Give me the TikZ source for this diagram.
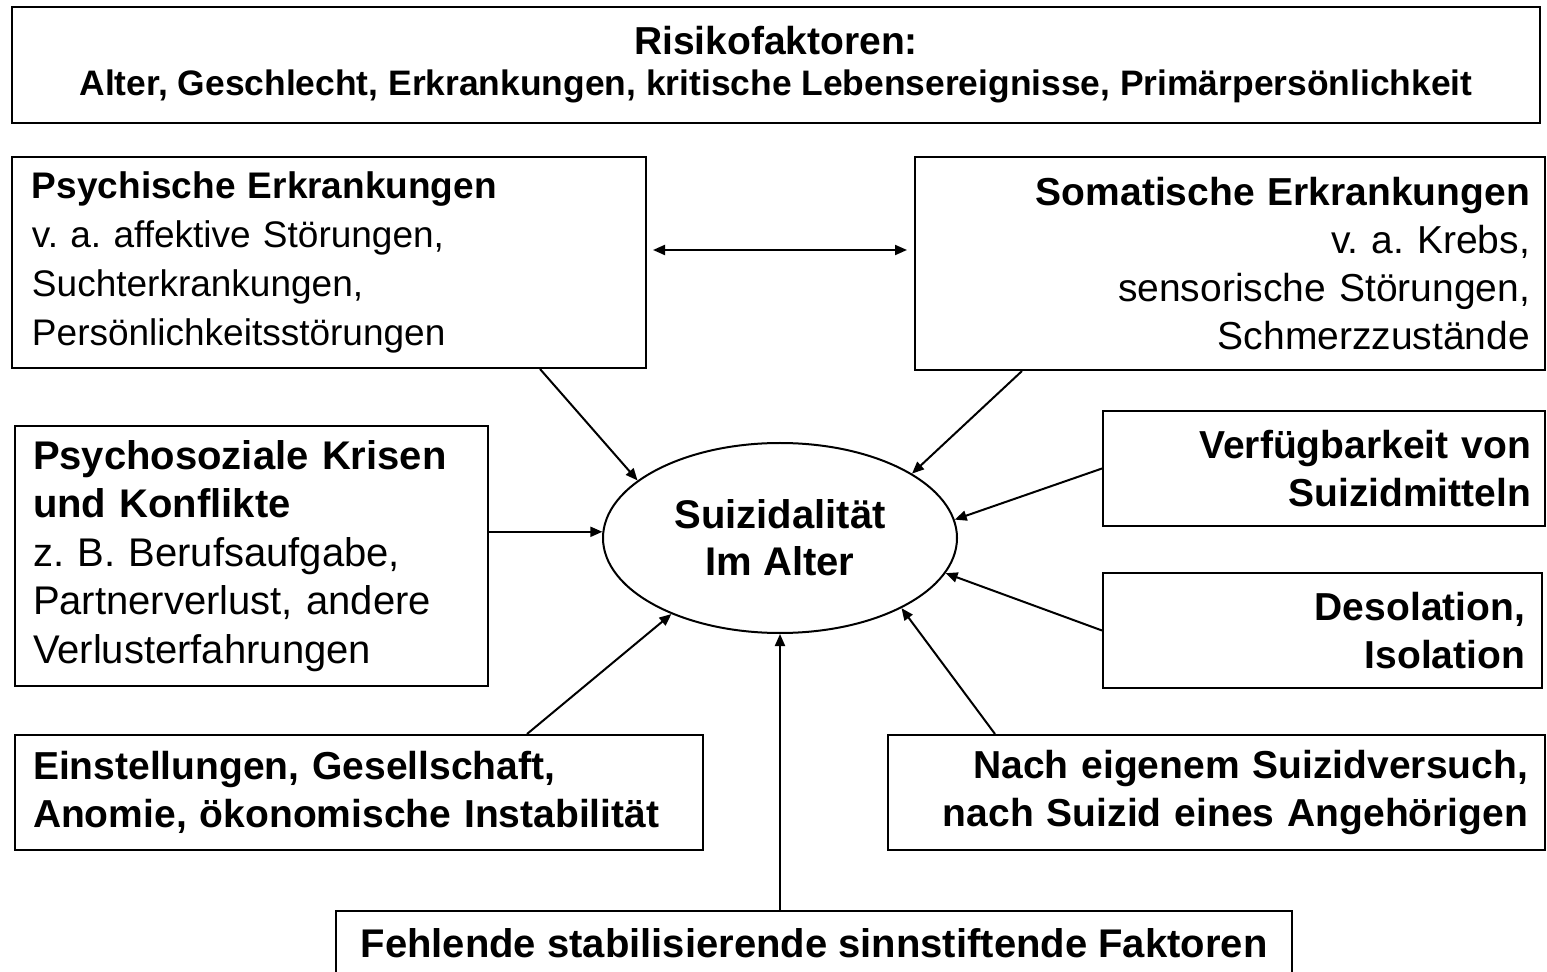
\documentclass[tikz,border=0pt]{standalone}
\usepackage{fontspec}
\setmainfont{Liberation Sans}
\usetikzlibrary{arrows.meta,shapes.geometric}
\frenchspacing

\tikzset{
  box/.style={draw, rectangle, line width=1pt, inner ysep=0pt, font=\fontsize{19.5}{24}\selectfont},
  lbox/.style={box, align=left},
  rbox/.style={box, align=right},
  pfeil/.style={-{Triangle[length=6pt,width=5pt]}, line width=1pt},
}

\begin{document}
\begin{tikzpicture}[x=0.5pt,y=-0.5pt]
\path[use as bounding box] (0,0) rectangle (1547,972);
\clip (0,0) rectangle (1547,972);

% Kopfzeile
\node[box, align=center, minimum width=764pt, minimum height=58pt,
  font=\bfseries\fontsize{17.7}{20.5}\selectfont] (risk) at (776,65)
  {{\fontsize{19.5}{20.5}\selectfont Risikofaktoren:}\\
   Alter, Geschlecht, Erkrankungen, kritische Lebensereignisse, Primärpersönlichkeit};

% Mitte
\node[ellipse, draw, line width=1pt, minimum width=177pt, minimum height=95pt, inner sep=0pt,
  align=center, font=\bfseries\fontsize{20}{23.5}\selectfont] (ell) at (780,538)
  {Suizidalität\\Im Alter};

% linke Seite
\node[lbox, minimum width=317pt, minimum height=105.5pt, inner xsep=10pt, text width=297pt,
  font=\fontsize{18.5}{24.5}\selectfont] (psych) at (329,262.5)
  {\textbf{Psychische Erkrankungen}\\ v. a. affektive Störungen,\\ Suchterkrankungen,\\ Persönlichkeitsstörungen};
\node[lbox, minimum width=236.5pt, minimum height=130pt, inner xsep=9pt, text width=218.5pt,
  font=\fontsize{20}{24.25}\selectfont] (psoz) at (251.5,556)
  {\textbf{Psychosoziale Krisen}\\ \textbf{und Konflikte}\\ z. B. Berufsaufgabe,\\ Partnerverlust, andere\\ Verlusterfahrungen};
\node[lbox, minimum width=344pt, minimum height=57.5pt, inner xsep=9pt, text width=326pt] (einst) at (359,792.5)
  {\textbf{Einstellungen, Gesellschaft,}\\ \textbf{Anomie, ökonomische Instabilität}};

% rechte Seite
\node[rbox, minimum width=315pt, minimum height=106.5pt, inner xsep=7.5pt, text width=300pt] (soma) at (1230,263.5)
  {\textbf{Somatische Erkrankungen}\\ v. a. Krebs,\\ sensorische Störungen,\\ Schmerzzustände};
\node[rbox, minimum width=221pt, minimum height=57.5pt, inner xsep=7pt, text width=207pt] (verf) at (1324,468.5)
  {\textbf{Verfügbarkeit von}\\ \textbf{Suizidmitteln}};
\node[rbox, minimum width=219.5pt, minimum height=57.5pt, inner xsep=8.5pt, text width=202.5pt] (desol) at (1322.5,630.5)
  {\textbf{Desolation,}\\ \textbf{Isolation}};
\node[rbox, minimum width=328.5pt, minimum height=57.5pt, inner xsep=8.5pt, text width=311.5pt] (nach) at (1216.5,792.5)
  {\textbf{Nach eigenem Suizidversuch,}\\ \textbf{nach Suizid eines Angehörigen}};

% unten
\node[box, align=center, minimum width=478pt, minimum height=32pt,
  font=\bfseries\fontsize{20}{24}\selectfont] (fehl) at (814,943)
  {Fehlende stabilisierende sinnstiftende Faktoren};

% Pfeile
\draw[pfeil] ([xshift=105.5pt]psych.south) -- (ell.158);
\draw[pfeil] ([xshift=-104pt]soma.south) -- (ell.26);
\draw[pfeil] (psoz.east |- ell.178) -- (ell.178);
\draw[pfeil] (verf.west) -- (ell.6);
\draw[pfeil] (desol.west) -- (ell.-12);
\draw[pfeil] ([xshift=84pt]einst.north) -- (ell.215);
\draw[pfeil] ([xshift=-110.75pt]nach.north) -- (ell.-30);
\draw[pfeil] (fehl.north -| ell.south) -- (ell.south);
\draw[{Triangle[length=6pt,width=5pt]}-{Triangle[length=6pt,width=5pt]}, line width=1pt]
  ([xshift=3pt,yshift=6.25pt]psych.east) -- ([xshift=-3.5pt,yshift=6.75pt]soma.west);
\end{tikzpicture}
\end{document}
